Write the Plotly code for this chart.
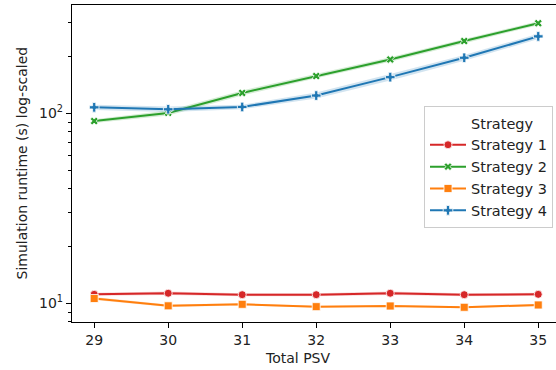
import plotly.graph_objects as go

# Total PSV values on the x axis
psv = [29, 30, 31, 32, 33, 34, 35]

# Mean simulation runtime (s) per strategy
strategy_names = ["Strategy 1", "Strategy 2", "Strategy 3", "Strategy 4"]
runtime_s1 = [11.15, 11.3, 11.1, 11.1, 11.3, 11.1, 11.15]
runtime_s2 = [91, 100.5, 128, 157, 192, 240, 298]
runtime_s3 = [10.6, 9.7, 9.88, 9.6, 9.68, 9.53, 9.8]
runtime_s4 = [107.5, 105, 108, 124, 155, 196, 254]

# Confidence band (lower / upper) per strategy
low_s1 = [10.95, 11.05, 10.9, 10.9, 11.05, 10.9, 10.95]
high_s1 = [11.35, 11.55, 11.3, 11.3, 11.55, 11.3, 11.35]
low_s2 = [89, 97.5, 124, 153, 187, 234, 291]
high_s2 = [93, 103.5, 132, 161, 197, 246, 305]
low_s3 = [10.4, 9.55, 9.75, 9.5, 9.55, 9.42, 9.65]
high_s3 = [10.8, 9.85, 10.0, 9.72, 9.8, 9.65, 9.95]
low_s4 = [104, 101.5, 105, 119.5, 149, 189, 246]
high_s4 = [111, 108.5, 111, 128.5, 161, 203, 262]

# Decade labels and minor ticks for the log axis
major_vals = [10, 100]
major_text = ["10<sup>1</sup>", "10<sup>2</sup>"]
minor_vals = [8, 9, 20, 30, 40, 50, 60, 70, 80, 90, 200, 300]

colors = ["#d62728", "#2ca02c", "#ff7f0e", "#1f77b4"]
band_colors = ["rgba(214,39,40,0.2)", "rgba(44,160,44,0.2)",
               "rgba(255,127,14,0.2)", "rgba(31,119,180,0.2)"]
symbols = ["circle", "x", "square", "cross"]
sizes = [8, 7, 8, 8]

series = [runtime_s1, runtime_s2, runtime_s3, runtime_s4]
lows = [low_s1, low_s2, low_s3, low_s4]
highs = [high_s1, high_s2, high_s3, high_s4]

FONT = "DejaVu Sans"
TXT = "#222222"

fig = go.Figure()

# legend heading entry (no visible symbol)
fig.add_trace(go.Scatter(
    x=[None], y=[None], mode="markers", name="Strategy",
    marker=dict(color="rgba(0,0,0,0)", size=1, line=dict(width=0)),
    showlegend=True, hoverinfo="skip"))

for i, name in enumerate(strategy_names):
    fig.add_trace(go.Scatter(
        x=psv + psv[::-1], y=highs[i] + lows[i][::-1],
        fill="toself", fillcolor=band_colors[i], line=dict(width=0),
        mode="lines", showlegend=False, hoverinfo="skip"))
    fig.add_trace(go.Scatter(
        x=psv, y=series[i], name=name, mode="lines+markers",
        line=dict(color=colors[i], width=2),
        marker=dict(symbol=symbols[i], size=sizes[i], color=colors[i],
                    line=dict(color="white", width=0.8))))

fig.update_layout(
    width=556, height=370,
    margin=dict(l=72, r=0, t=5, b=48),
    paper_bgcolor="white", plot_bgcolor="white",
    font=dict(family=FONT, size=13, color=TXT),
    showlegend=True,
    legend=dict(
        x=(424 - 72) / 484, y=(322 - 106) / 317,
        xanchor="left", yanchor="top",
        bgcolor="rgba(255,255,255,0.85)", bordercolor="#cccccc", borderwidth=1,
        font=dict(family=FONT, size=14.5, color=TXT),
        itemsizing="trace", itemwidth=36, tracegroupgap=0),
    xaxis=dict(
        range=[28.7, 35.24], tickvals=psv, ticktext=[str(v) for v in psv],
        showgrid=False, zeroline=False,
        showline=True, linecolor="black", linewidth=1.2, mirror=True,
        ticks="outside", ticklen=5, tickwidth=1, tickcolor="black",
        tickfont=dict(family=FONT, size=14, color=TXT)),
    yaxis=dict(
        type="log", range=[0.9016, 2.570],
        tickvals=major_vals, ticktext=major_text,
        showgrid=False, zeroline=False,
        showline=True, linecolor="black", linewidth=1.2, mirror=False,
        ticks="outside", ticklen=5, tickwidth=1, tickcolor="black",
        tickfont=dict(family=FONT, size=14, color=TXT),
        minor=dict(tickvals=minor_vals, ticks="outside", ticklen=3,
                   tickwidth=0.8, tickcolor="black", showgrid=False)),
    annotations=[
        dict(text="Total PSV", xref="paper", yref="paper",
             x=(297 - 72) / 484, y=(322 - 358) / 317,
             xanchor="center", yanchor="middle", showarrow=False,
             font=dict(family=FONT, size=14, color=TXT)),
        dict(text="Simulation runtime (s) log-scaled", xref="paper", yref="paper",
             x=(21 - 72) / 484, y=0.5, textangle=-90,
             xanchor="center", yanchor="middle", showarrow=False,
             font=dict(family=FONT, size=14, color=TXT)),
    ],
)

fig.write_html("out.html")
